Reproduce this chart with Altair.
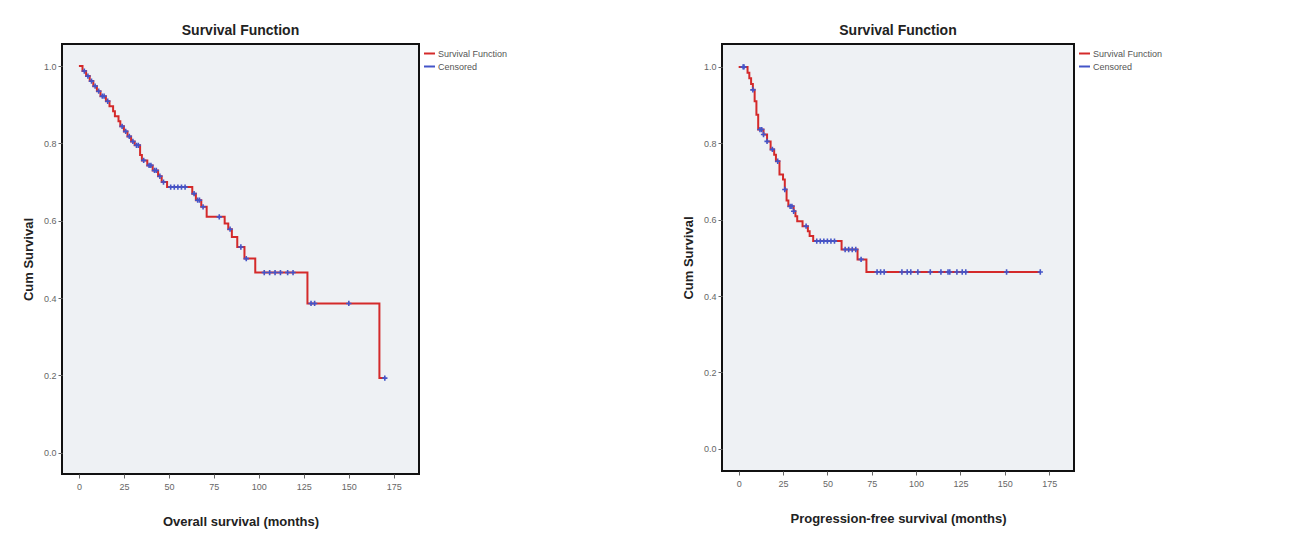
import bisect
import altair as alt
import pandas as pd

# ---------------- data ----------------
series_names = ["Survival Function", "Censored"]
x_ticks = [0, 25, 50, 75, 100, 125, 150, 175]
y_ticks = [0.0, 0.2, 0.4, 0.6, 0.8, 1.0]

# Overall survival (left panel)
os_event_times = [2, 4, 6, 8, 10, 12, 15, 17, 19, 20, 22, 23, 25, 27, 29, 31,
                  34, 35, 38, 41, 44, 46, 49, 63, 65, 68, 71, 81, 83, 85, 88,
                  92, 98, 127, 167]
os_event_surv = [0.987, 0.974, 0.961, 0.948, 0.935, 0.922, 0.909, 0.896, 0.883,
                 0.870, 0.857, 0.844, 0.831, 0.818, 0.805, 0.795, 0.770, 0.756,
                 0.743, 0.730, 0.715, 0.700, 0.687, 0.670, 0.653, 0.636, 0.610,
                 0.593, 0.578, 0.558, 0.532, 0.502, 0.466, 0.386, 0.193]
os_censor_times = [3, 5, 7, 9, 11, 13, 14, 16, 24, 26, 28, 30, 32, 33, 36, 39,
                   40, 42, 43, 45, 47, 51, 53, 55, 57, 59, 64, 66, 67, 69, 78,
                   84, 90, 93, 103, 106, 109, 112, 116, 119, 129, 131, 150, 170]
os_last_time = 170

# Progression-free survival (right panel)
pfs_event_times = [5, 6, 7, 8, 9, 10, 11, 14, 16, 18, 20, 21, 23, 25, 26, 27,
                   28, 31, 32, 33, 36, 39, 40, 42, 58, 67, 72]
pfs_event_surv = [0.985, 0.970, 0.955, 0.940, 0.910, 0.875, 0.836, 0.823, 0.805,
                  0.784, 0.770, 0.753, 0.718, 0.705, 0.679, 0.650, 0.635, 0.622,
                  0.609, 0.596, 0.583, 0.570, 0.557, 0.544, 0.522, 0.496, 0.463]
pfs_censor_times = [2.5, 3, 8, 12, 13, 14, 16, 19, 22, 26, 29, 30, 31, 38, 44,
                    46, 48, 50, 52, 54, 60, 62, 64, 66, 69, 78, 80, 82, 92, 95,
                    97, 101, 108, 114, 118, 119, 123, 126, 128, 151, 170]
pfs_last_time = 170

RED = "#d42a2a"
BLUE = "#4455c8"
FONT = "Liberation Sans"


def step_df(times, surv, last):
    t = [0] + list(times) + [last]
    s = [1.0] + list(surv) + [surv[-1]]
    return pd.DataFrame({"time": t, "surv": s, "series": series_names[0]})


def censor_df(ctimes, times, surv):
    vals = []
    for c in ctimes:
        i = bisect.bisect_right(times, c)
        vals.append(1.0 if i == 0 else surv[i - 1])
    return pd.DataFrame({"time": ctimes, "surv": vals, "series": series_names[1]})


def panel(line_df, cens_df, xtitle, w, h, ydom):
    color = alt.Color(
        "series:N",
        scale=alt.Scale(domain=series_names, range=[RED, BLUE]),
        legend=alt.Legend(title=None, orient="right", symbolType="stroke",
                          symbolStrokeWidth=2, symbolSize=120, labelFontSize=9,
                          labelColor="#555555", labelFont=FONT, offset=1,
                          padding=3, rowPadding=1, labelOffset=2),
    )
    x = alt.X("time:Q",
              scale=alt.Scale(domain=[-9.4, 189], nice=False, zero=False),
              axis=alt.Axis(values=x_ticks, title=xtitle, titlePadding=24,
                            labelPadding=4))
    y = alt.Y("surv:Q",
              scale=alt.Scale(domain=ydom, nice=False, zero=False),
              axis=alt.Axis(values=y_ticks, format=".1f", title="Cum Survival",
                            titlePadding=8))
    line = alt.Chart(line_df).mark_line(
        interpolate="step-after", strokeWidth=2).encode(x=x, y=y, color=color)
    pts = alt.Chart(cens_df).mark_point(
        shape="M-1,0L1,0M0,-1L0,1", size=28, strokeWidth=1.6, filled=False,
        opacity=1).encode(x=x, y=y, color=color)
    return alt.layer(line, pts).properties(
        width=w, height=h,
        title=alt.Title("Survival Function", fontSize=14, fontWeight="bold",
                        font=FONT, color="#222222", offset=6, anchor="middle"),
    )


left = panel(step_df(os_event_times, os_event_surv, os_last_time),
             censor_df(os_censor_times, os_event_times, os_event_surv),
             "Overall survival (months)", 357, 430, [-0.055, 1.057])
right = panel(step_df(pfs_event_times, pfs_event_surv, pfs_last_time),
              censor_df(pfs_censor_times, pfs_event_times, pfs_event_surv),
              "Progression-free survival (months)", 352, 427, [-0.058, 1.06])

chart = alt.hconcat(left, right, spacing=169).resolve_scale(
    color="independent").resolve_legend(color="independent").configure_view(
    stroke="#111111", strokeWidth=2, fill="#eef1f4").configure_axis(
    domain=False, grid=False, tickColor="#666666", tickSize=4,
    labelColor="#666666", labelFontSize=9, labelFont=FONT,
    titleFont=FONT, titleFontSize=13, titleFontWeight="bold",
    titleColor="#222222").properties(
    background="white",
    padding={"left": 13, "top": 15, "right": 5, "bottom": 5})

chart.save("out.html", embed_options={"renderer": "svg", "actions": False})
